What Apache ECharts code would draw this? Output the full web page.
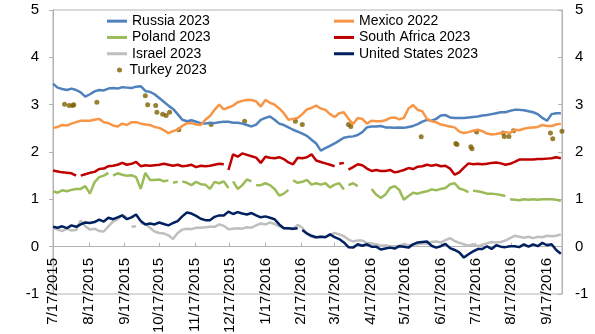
<!DOCTYPE html>
<html>
<head>
<meta charset="utf-8">
<script src="https://cdn.jsdelivr.net/npm/echarts@6/dist/echarts.min.js"></script>
<style>
  html, body { margin: 0; padding: 0; background: #fff; }
  #chart { width: 595px; height: 334px; }
</style>
</head>
<body>
<div id="chart"></div>
<script>
// Calendar days shown on the horizontal axis (M/D/YYYY)
const firstDay = Date.UTC(2015, 6, 17);
const lastDay = Date.UTC(2016, 8, 30);
const categories = [];
for (let t = firstDay; t <= lastDay; t += 86400000) {
  const d = new Date(t);
  categories.push((d.getUTCMonth() + 1) + '/' + d.getUTCDate() + '/' + d.getUTCFullYear());
}

// Series are observed every 4th calendar day starting 7/17/2015; null = no quote
const stepDays = 4;

const russia2023 = [
  3.44, 3.36, 3.33, 3.31, 3.34, 3.31, 3.26, 3.17, 3.22, 3.28,
  3.31, 3.30, 3.34, 3.35, 3.34, 3.37, 3.36, 3.35, 3.38, 3.39,
  3.29, 3.27, 3.22, 3.14, 3.06, 2.98, 2.91, 2.80, 2.68, 2.65,
  2.67, 2.64, 2.61, 2.60, 2.62, 2.61, 2.63, 2.64, 2.64, 2.62,
  2.62, 2.60, 2.57, 2.54, 2.58, 2.68, 2.72, 2.75, 2.68, 2.60,
  2.57, 2.52, 2.47, 2.43, 2.39, 2.34, 2.26, 2.18, 2.03, 2.08,
  2.13, 2.18, 2.24, 2.30, 2.32, 2.33, 2.36, 2.42, 2.52, 2.54,
  2.54, 2.55, 2.52, 2.52, 2.51, 2.52, 2.51, 2.53, 2.55, 2.59,
  2.64, 2.68, 2.66, 2.70, 2.77, 2.78, 2.73, 2.72, 2.72, 2.72,
  2.73, 2.74, 2.75, 2.77, 2.78, 2.80, 2.82, 2.84, 2.84, 2.87,
  2.89, 2.89, 2.88, 2.86, 2.84, 2.80, 2.72, 2.66, 2.80, 2.82, 2.82
];

const mexico2022 = [
  2.51, 2.53, 2.57, 2.56, 2.60, 2.63, 2.66, 2.66, 2.66, 2.68,
  2.70, 2.63, 2.61, 2.56, 2.54, 2.60, 2.57, 2.63, 2.63, 2.60,
  2.58, 2.57, 2.53, 2.51, 2.46, 2.40, 2.44, 2.47, 2.55, 2.61,
  2.61, 2.58, 2.57, 2.68, 2.76, 2.89, 3.00, 2.90, 2.94, 2.98,
  3.05, 3.08, 3.10, 3.10, 3.07, 2.96, 3.10, 3.04, 3.00, 2.92,
  2.82, 2.68, 2.70, 2.72, 2.80, 2.90, 2.93, 2.98, 2.92, 2.89,
  2.80, 2.74, 2.82, 2.84, 2.70, 2.59, 2.72, 2.70, 2.60, 2.66,
  2.65, 2.65, 2.67, 2.72, 2.73, 2.69, 2.72, 2.92, 2.99, 2.89,
  2.86, 2.70, 2.65, 2.63, 2.58, 2.56, 2.54, 2.52, 2.43, 2.40,
  2.42, 2.45, 2.47, 2.44, 2.39, 2.37, 2.38, 2.40, 2.42, 2.40,
  2.47, 2.46, 2.49, 2.51, 2.52, 2.53, 2.57, 2.55, 2.55, 2.58, 2.60
];

const poland2023 = [
  1.17, 1.14, 1.19, 1.17, 1.20, 1.22, 1.22, 1.28, 1.12, 1.36,
  1.47, 1.50, 1.56, 1.50, 1.55, 1.52, 1.50, 1.51, 1.47, 1.22,
  1.56, 1.41, 1.41, 1.42, 1.38, 1.40, 1.35, 1.37, 1.38, 1.35,
  1.30, 1.37, 1.32, 1.31, 1.22, 1.37, 1.34, 1.38, 1.24, 1.38,
  1.22, 1.30, 1.42, 1.38, 1.30, 1.30, 1.34, 1.30, 1.22, 1.08,
  1.12, 1.20, 1.40, 1.35, 1.37, 1.41, 1.31, 1.34, 1.31, 1.34,
  1.25, 1.31, 1.34, 1.21, 1.30, 1.34, 1.28, null, null, 1.22,
  1.10, 1.03, 1.10, 1.24, 1.28, 1.20, 0.99, 1.07, 1.14, 1.12,
  1.15, 1.17, 1.21, 1.19, 1.22, 1.24, 1.32, 1.34, 1.23, 1.20,
  1.15, 1.18, 1.17, 1.15, 1.12, 1.12, 1.11, 1.09, 1.07, 1.00,
  0.99, 0.98, 1.00, 0.99, 1.00, 0.99, 1.00, 1.00, 1.00, 0.99, 0.97
];
const polandMissing = ['9/5/2015', '10/27/2015', '11/4/2015', '12/18/2015', '1/7/2016',
  '2/8/2016', '3/27/2016', '7/13/2016', '8/14/2016'];

const southAfrica2023 = [
  1.61, 1.59, 1.57, 1.56, 1.55, 1.50, 1.50, 1.53, 1.56, 1.58,
  1.64, 1.65, 1.70, 1.71, 1.73, 1.77, 1.73, 1.75, 1.79, 1.70,
  1.72, 1.71, 1.72, 1.73, 1.75, 1.73, 1.71, 1.73, 1.70, 1.71,
  1.73, 1.68, 1.71, 1.70, 1.71, 1.73, 1.75, 1.74, 1.62, 1.95,
  1.90, 1.97, 1.94, 1.91, 1.88, 1.77, 1.90, 1.88, 1.87, 1.89,
  1.85, 1.78, 1.74, 1.88, 1.87, 1.89, 1.95, 1.82, 1.79, 1.76,
  1.73, 1.70, 1.75, 1.77, 1.63, 1.68, 1.74, 1.72, 1.65, 1.60,
  1.62, 1.60, 1.60, 1.62, 1.57, 1.59, 1.62, 1.66, 1.64, 1.69,
  1.70, 1.73, 1.71, 1.73, 1.70, 1.71, 1.65, 1.52, 1.57, 1.67,
  1.76, 1.74, 1.75, 1.74, 1.75, 1.77, 1.78, 1.76, 1.73, 1.75,
  1.79, 1.84, 1.84, 1.84, 1.84, 1.85, 1.85, 1.86, 1.87, 1.89, 1.87
];
const southAfricaMissing = ['8/8/2015', '12/14/2015', '3/19/2016', '3/27/2016'];

const israel2023 = [
  0.40, 0.36, 0.33, 0.38, 0.34, 0.35, 0.55, 0.43, 0.36, 0.38,
  0.33, 0.32, 0.43, 0.53, 0.58, 0.67, 0.62, 0.42, 0.43, 0.50,
  0.48, 0.40, 0.32, 0.29, 0.28, 0.24, 0.16, 0.29, 0.36, 0.38,
  0.37, 0.40, 0.40, 0.41, 0.42, 0.42, 0.47, 0.44, 0.37, 0.38,
  0.39, 0.38, 0.41, 0.40, 0.45, 0.49, 0.47, 0.51, 0.48, 0.43,
  0.39, 0.38, 0.37, 0.46, 0.40, 0.27, 0.21, 0.19, 0.21, 0.21,
  0.25, 0.29, 0.26, 0.22, 0.15, 0.11, 0.13, 0.13, 0.08, 0.07,
  0.05, 0.02, 0.03, 0.01, 0.01, 0.02, 0.05, 0.03, 0.04, 0.05,
  0.07, 0.06, 0.10, 0.11, 0.09, 0.14, 0.18, 0.12, 0.08, 0.05,
  0.02, 0.05, 0.01, 0.04, 0.07, 0.10, 0.09, 0.10, 0.13, 0.18,
  0.23, 0.21, 0.19, 0.21, 0.18, 0.21, 0.20, 0.23, 0.22, 0.23, 0.26
];
const israelMissing = ['9/21/2015', '9/29/2015'];

const unitedStates2023 = [
  0.42, 0.40, 0.43, 0.39, 0.45, 0.42, 0.47, 0.51, 0.50, 0.52,
  0.57, 0.53, 0.61, 0.58, 0.62, 0.66, 0.58, 0.62, 0.68, 0.54,
  0.47, 0.49, 0.47, 0.51, 0.48, 0.45, 0.50, 0.54, 0.64, 0.72,
  0.70, 0.65, 0.59, 0.56, 0.56, 0.63, 0.66, 0.66, 0.74, 0.69,
  0.73, 0.70, 0.68, 0.71, 0.66, 0.62, 0.64, 0.61, 0.58, 0.47,
  0.39, 0.39, 0.38, 0.39, 0.35, 0.28, 0.23, 0.20, 0.21, 0.20,
  0.26, 0.20, 0.16, 0.09, -0.01, -0.02, 0.05, 0.02, 0.05, 0.00,
  0.00, -0.06, -0.04, -0.02, -0.04, 0.01, 0.00, -0.02, 0.05, 0.09,
  0.10, 0.11, 0.02, -0.02, 0.01, 0.06, -0.03, -0.07, -0.12, -0.23,
  -0.16, -0.10, -0.05, -0.05, 0.01, -0.05, 0.03, 0.00, -0.01, 0.01,
  0.01, -0.01, 0.05, 0.00, 0.05, 0.01, 0.08, 0.03, 0.05, -0.07, -0.15
];
const unitedStatesMissing = ['2/16/2016'];

// Turkey 2023: sparse quotes
const turkeyDates = [
  '7/27/2015', '7/31/2015', '8/3/2015', '8/4/2015', '8/24/2015',
  '10/5/2015', '10/7/2015', '10/14/2015', '10/15/2015', '10/20/2015',
  '10/23/2015', '10/26/2015', '11/3/2015', '12/1/2015', '12/30/2015',
  '2/12/2016', '2/18/2016', '3/29/2016', '3/31/2016', '5/31/2016',
  '6/30/2016', '7/1/2016', '7/13/2016', '7/14/2016', '7/18/2016',
  '8/10/2016', '8/11/2016', '8/15/2016', '8/19/2016', '9/20/2016',
  '9/22/2016', '9/30/2016'
];
const turkey2023 = [
  3.01, 2.98, 2.98, 3.00, 3.05,
  3.19, 3.00, 2.98, 2.84, 2.80,
  2.77, 2.84, 2.47, 2.58, 2.65,
  2.65, 2.58, 2.58, 2.54, 2.32,
  2.18, 2.16, 2.11, 2.07, 2.42,
  2.40, 2.33, 2.33, 2.45, 2.40,
  2.28, 2.44
];

const yTicks = { min: -1, max: 5, step: 1 };

const FONT = '"Liberation Sans", Arial, sans-serif';
const AXIS_GREY = '#B3B3B3';

const dayIndex = {};
categories.forEach((c, i) => { dayIndex[c] = i; });

// sampled quotes plus the days without a quote, in date order
function points(values, missing) {
  const pts = values.map((v, i) => [i * stepDays, v]);
  (missing || []).forEach(d => pts.push([dayIndex[d], null]));
  return pts.sort((a, b) => a[0] - b[0]);
}

const lineDefs = [
  { name: 'Russia 2023', color: '#4F81BD', values: russia2023 },
  { name: 'Mexico 2022', color: '#F79646', values: mexico2022 },
  { name: 'Poland 2023', color: '#9BBB59', values: poland2023, missing: polandMissing },
  { name: 'South Africa 2023', color: '#C00000', values: southAfrica2023, missing: southAfricaMissing },
  { name: 'Israel 2023', color: '#BFBFBF', values: israel2023, missing: israelMissing },
  { name: 'United States 2023', color: '#002060', values: unitedStates2023, missing: unitedStatesMissing }
];

const series = lineDefs.map(d => ({
  name: d.name,
  type: 'line',
  data: points(d.values, d.missing),
  showSymbol: false,
  symbol: 'none',
  connectNulls: false,
  color: d.color,
  lineStyle: { color: d.color, width: 2.5 },
  emphasis: { disabled: true }
}));

series.push({
  name: 'Turkey 2023',
  type: 'scatter',
  data: turkeyDates.map((d, i) => [dayIndex[d], turkey2023[i]]),
  symbol: 'circle',
  symbolSize: 5,
  color: '#7F6000',
  itemStyle: { color: '#7F6000' },
  emphasis: { disabled: true }
});

const isSeventeenth = (index, value) => value.split('/')[1] === '17';

const legendText = { fontFamily: FONT, fontSize: 14, color: '#000', lineHeight: 16.3 };

const chart = echarts.init(document.getElementById('chart'), null, { renderer: 'canvas' });
chart.setOption({
  animation: false,
  backgroundColor: '#fff',
  grid: {
    left: 53, right: 33, top: 10, bottom: 40,
    outerBoundsMode: 'none', containLabel: false,
    show: true, borderColor: AXIS_GREY, borderWidth: 1, backgroundColor: 'transparent'
  },
  legend: [
    {
      orient: 'vertical', left: 107, top: 13, itemGap: 0, padding: 0,
      itemWidth: 20, itemHeight: 3, icon: 'rect',
      data: ['Russia 2023', 'Poland 2023', 'Israel 2023'],
      textStyle: legendText, selectedMode: false
    },
    {
      orient: 'vertical', left: 117, top: 61.9, itemGap: 0, padding: 0,
      itemWidth: 10, itemHeight: 5, icon: 'circle',
      data: ['Turkey 2023'],
      textStyle: legendText, selectedMode: false
    },
    {
      orient: 'vertical', left: 334, top: 13, itemGap: 0, padding: 0,
      itemWidth: 20, itemHeight: 3, icon: 'rect',
      data: ['Mexico 2022', 'South Africa 2023', 'United States 2023'],
      textStyle: legendText, selectedMode: false
    }
  ],
  xAxis: [
    {
      // zero line with the monthly ticks
      type: 'category',
      data: categories,
      boundaryGap: false,
      axisLine: { show: true, onZero: true, onZeroAxisIndex: 0, lineStyle: { color: AXIS_GREY, width: 1 } },
      axisTick: { show: true, inside: true, length: 4, interval: isSeventeenth, lineStyle: { color: AXIS_GREY } },
      axisLabel: { show: false },
      splitLine: { show: false }
    },
    {
      // date labels hanging just under the zero line
      type: 'category',
      data: categories,
      position: 'bottom',
      boundaryGap: false,
      axisLine: { show: false, onZero: false },
      axisTick: { show: false },
      axisLabel: {
        interval: isSeventeenth, rotate: 90, margin: -36,
        fontFamily: FONT, fontSize: 15, color: '#000'
      },
      splitLine: { show: false }
    }
  ],
  yAxis: [
    {
      type: 'value', position: 'left',
      min: yTicks.min, max: yTicks.max, interval: yTicks.step,
      axisLine: { show: true, lineStyle: { color: AXIS_GREY } },
      axisTick: { show: true, length: 4, lineStyle: { color: AXIS_GREY } },
      axisLabel: { margin: 14, fontFamily: FONT, fontSize: 15, color: '#000' },
      splitLine: { show: false }
    },
    {
      type: 'value', position: 'right',
      min: yTicks.min, max: yTicks.max, interval: yTicks.step,
      axisLine: { show: true, lineStyle: { color: AXIS_GREY } },
      axisTick: { show: true, inside: true, length: 4, lineStyle: { color: AXIS_GREY } },
      axisLabel: { margin: 13, fontFamily: FONT, fontSize: 15, color: '#000' },
      splitLine: { show: false }
    }
  ],
  series: series
});
</script>
</body>
</html>
